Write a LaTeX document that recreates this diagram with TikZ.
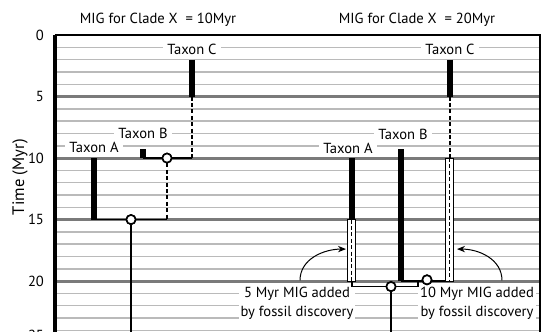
\documentclass[tikz,border=0pt]{standalone}
\usepackage{fontspec}
\setmainfont{PT Sans}
\usetikzlibrary{positioning,arrows.meta}

\begin{document}
\begin{tikzpicture}[
  x=0.5pt, y=-6.15pt,
  font=\fontsize{7.3}{9.5}\selectfont,
  minor/.style={line width=0.75pt, draw=black!27},
  major/.style={line width=1.5pt, draw=black!52},
  taxlbl/.style={fill=white, inner xsep=2pt, inner ysep=0.3pt},
  bar/.style={line width=3pt},
  hollowbar/.style={draw, fill=white, line width=0.5pt},
  link/.style={line width=0.7pt},
  dlink/.style={link, dash pattern=on 2pt off 1.2pt},
  junc/.style={circle, draw, fill=white, line width=0.8pt, minimum size=4.6pt, inner sep=0pt},
  note/.style={fill=white, align=center, inner xsep=1pt, inner ysep=0.5pt},
  arr/.style={-{Stealth[length=4pt,width=3.2pt]}, line width=0.5pt}
]
\clip (0,-2.85) rectangle (543,24.07);

% --- time grid ---
\foreach \t in {1,...,24}
  \draw[minor] (55,\t) -- (540,\t);
\foreach \t in {5,10,...,25}
  \draw[major] (55,\t) -- (540,\t);
\draw[line width=1pt] (55,0) -- (540,0) -- (540,25);
\draw[line width=2pt] (55,0) -- (55,25);
\foreach \t in {0,5,...,20}
  \node[anchor=east] (tick\t) at (51,\t) {\t};
\node[anchor=east] (tick25) at (51,24.45) {25};
\node[rotate=90, font=\fontsize{8.3}{10}\selectfont] (ylab) at (20,11.55) {Time (Myr)};

% --- titles ---
\node (ttlL) at (158,-1.22) {MIG for Clade X\ \ = 10Myr};
\node (ttlR) at (417,-1.22) {MIG for Clade X\ \ = 20Myr};

% --- notes ---
\node[note] (noteL) at (297,21.8) {5 Myr MIG added\\by fossil discovery};
\node[note] (noteR) at (477,21.8) {10 Myr MIG added\\by fossil discovery};
\coordinate (arL1) at (300,19.95);
\coordinate (arL2) at (346,17.4);
\coordinate (arR1) at (502,19.95);
\coordinate (arR2) at (457,17.4);
\draw[arr] (arL1) to[out=90, in=180] (arL2);
\draw[arr] (arR1) to[out=90, in=0] (arR2);

% --- left tree (MIG 10) ---
\node[taxlbl] (lblLA) at (94,9.1) {Taxon A};
\node[taxlbl] (lblLB) at (143,8.0) {Taxon B};
\node[taxlbl] (lblLC) at (192,1.2) {Taxon C};
\coordinate (lA1) at (94,10);   \coordinate (lA2) at (94,15);
\coordinate (lB1) at (143,9.3); \coordinate (lB2) at (143,10);
\coordinate (lC1) at (192,2);   \coordinate (lC2) at (192,5);
\coordinate (lC3) at (192,10);
\coordinate (lBC2) at (167,15);
\coordinate (lend) at (131,25);
\node[junc] (lBC) at (167,10) {};
\node[junc] (lroot) at (131,15) {};
\draw[dlink] (lC2) -- (lC3);
\draw[link] (lB2) -- (lC3);
\draw[dlink] (lBC) -- (lBC2);
\draw[link] (lA2) -- (lBC2);
\draw[link] (lroot) -- (lend);
\draw[bar] (lA1) -- (lA2);
\draw[bar] (lB1) -- (lB2);
\draw[bar] (lC1) -- (lC2);
\node[junc] at (lBC) {};
\node[junc] at (lroot) {};

% --- right tree (MIG 20) ---
\node[taxlbl] (lblRA) at (348,9.2) {Taxon A};
\node[taxlbl] (lblRB) at (403,8.1) {Taxon B};
\node[taxlbl] (lblRC) at (450,1.2) {Taxon C};
\coordinate (rA1) at (352,10);   \coordinate (rA2) at (352,15);
\coordinate (rA3) at (352,20);
\coordinate (rB1) at (401,9.3);  \coordinate (rB2) at (401,20);
\coordinate (rC1) at (450,2);    \coordinate (rC2) at (450,5);
\coordinate (rC3) at (450,10);   \coordinate (rC4) at (450,20);
\coordinate (rbrk) at (418,20);
\coordinate (rend) at (391,25);
\node[junc] (rBC) at (427,19.9) {};
\node[junc] (rroot) at (391,20.45) {};
\draw[link] (rA3) |- (rbrk |- rroot) -- (rbrk);
\draw[link] (rroot) -- (rend);
\draw[link] (rB2) -- (rC4);
\draw[dlink] (rC2) -- (rC3);
\draw[bar] (rA1) -- (rA2);
\draw[bar] (rB1) -- (rB2);
\draw[bar] (rC1) -- (rC2);
\draw[hollowbar] ([xshift=-2pt]rA2) rectangle ([xshift=2pt]rA3);
\draw[hollowbar] ([xshift=-2pt]rC3) rectangle ([xshift=2pt]rC4);
\draw[dlink, line width=0.5pt] (rA2) -- (rA3);
\draw[dlink, line width=0.5pt] (rC3) -- (rC4);
\node[junc] at (rBC) {};
\node[junc] at (rroot) {};

\end{tikzpicture}
\end{document}
